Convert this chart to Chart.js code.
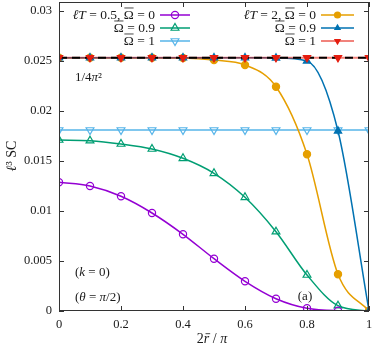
<!DOCTYPE html>
<html><head><meta charset="utf-8">
<script src="https://cdn.jsdelivr.net/npm/chart.js@4.4.1/dist/chart.umd.min.js"></script>
<style>html,body{margin:0;padding:0;background:#fff}#wrap{width:374px;height:348px}</style>
</head><body><div id="wrap"><canvas id="c" width="374" height="348"></canvas></div>
<script>
// ---- data ----
const xs = [0, 0.1, 0.2, 0.3, 0.4, 0.5, 0.6, 0.7, 0.8, 0.9, 1];
const lt05_om0  = [0.01287, 0.0125, 0.01147, 0.0098, 0.00767, 0.00523, 0.00297, 0.00123, 0.00027, 0.00003, 0];
const lt05_om09 = [0.0171, 0.01703, 0.0167, 0.0162, 0.01527, 0.01377, 0.01137, 0.00793, 0.0036, 0.00053, 0];
const lt05_om1  = [0.0181, 0.0181, 0.0181, 0.0181, 0.0181, 0.0181, 0.0181, 0.0181, 0.0181, 0.0181, 0.0181];
const lt2_om0   = [0.02533, 0.02533, 0.02533, 0.02532, 0.0253, 0.0251, 0.0246, 0.02243, 0.01567, 0.00367, 0];
const lt2_om09  = [0.02533, 0.02533, 0.02533, 0.02533, 0.02533, 0.02533, 0.02533, 0.0253, 0.0250, 0.0180, 0];
const lt2_om1   = [0.02533, 0.02533, 0.02533, 0.02533, 0.02533, 0.02533, 0.02533, 0.02533, 0.02533, 0.02533, 0.02533];
const refLevel  = 1 / (4 * Math.PI * Math.PI);
const xTicks = [0, 0.2, 0.4, 0.6, 0.8, 1];
const xTickLabels = ['0', '0.2', '0.4', '0.6', '0.8', '1'];
const yTicks = [0, 0.005, 0.01, 0.015, 0.02, 0.025, 0.03];
const yTickLabels = ['0', '0.005', '0.01', '0.015', '0.02', '0.025', '0.03'];

const C = {purple:'#9400D3', green:'#009E73', lblue:'#56B4E9', orange:'#E69F00', blue:'#0072B2', red:'#E51E10', redLine:'rgba(229,30,16,0.55)'};
const FONT = '"Liberation Serif", "DejaVu Serif", serif';

const pts = arr => xs.map((x, i) => ({x, y: arr[i]}));
const clear = 'rgba(0,0,0,0)';

function ds(data, color, style, filled, rot, radius, order, lineColor) {
  return {data: pts(data), borderColor: lineColor || color, backgroundColor: filled ? color : clear,
    pointBorderColor: color, pointBackgroundColor: filled ? color : clear,
    pointStyle: style, pointRotation: rot, pointRadius: radius, pointBorderWidth: 1.2,
    borderWidth: 1.5, cubicInterpolationMode: 'monotone', order};
}

const datasets = [
  ds(lt05_om1, C.lblue, 'triangle', false, 180, 4.5, 90),
  ds(lt05_om09, C.green, 'triangle', false, 0, 4.5, 80),
  ds(lt05_om0, C.purple, 'circle', false, 0, 3.6, 70),
  ds(lt2_om0, C.orange, 'circle', true, 0, 3.6, 60),
  ds(lt2_om09, C.blue, 'triangle', true, 0, 4.2, 50),
  Object.assign(ds(lt2_om1, C.red, 'triangle', true, 180, 0, 40, C.redLine), {borderWidth: 2}),
  {data: [{x: 0, y: refLevel}, {x: 1, y: refLevel}], borderColor: '#000', borderWidth: 2, borderDash: [8, 5], pointRadius: 0, order: 30},
  Object.assign(ds(lt2_om1, C.red, 'triangle', true, 180, 4.2, 20), {showLine: false})
];

function rich(ctx, segs, x, y, align, size) {
  size = size || 13;
  let w = 0;
  const m = segs.map(s => { ctx.font = (s[1] === 'i' ? 'italic ' : '') + size + 'px ' + FONT; const ww = ctx.measureText(s[0]).width; w += ww; return ww; });
  let cx = align === 'right' ? x - w : align === 'center' ? x - w / 2 : x;
  segs.forEach((s, i) => {
    ctx.font = (s[1] === 'i' ? 'italic ' : '') + size + 'px ' + FONT;
    ctx.fillStyle = '#1a1a1a';
    ctx.textBaseline = 'middle';
    ctx.textAlign = 'left';
    ctx.fillText(s[0], cx, y);
    if (s[2] === 'o') {
      ctx.strokeStyle = '#1a1a1a'; ctx.lineWidth = 0.8;
      const sh = s[1] === 'i' ? 1.2 : 0;
      const top = s[0] === 'Ω' ? y - size * 0.52 : y - size * 0.38;
      ctx.beginPath(); ctx.moveTo(cx + 0.5 + sh, top); ctx.lineTo(cx + m[i] - 0.3 + sh, top); ctx.stroke();
    }
    cx += m[i];
  });
}

function marker(ctx, x, y, color, style, filled, rot, r) {
  ctx.save();
  ctx.strokeStyle = color; ctx.fillStyle = color; ctx.lineWidth = 1.2;
  ctx.beginPath();
  if (style === 'circle') { ctx.arc(x, y, r, 0, Math.PI * 2); }
  else {
    let a = rot * Math.PI / 180;
    for (let k = 0; k < 3; k++) { const px = x + Math.sin(a) * r, py = y - Math.cos(a) * r; k ? ctx.lineTo(px, py) : ctx.moveTo(px, py); a += 2 * Math.PI / 3; }
    ctx.closePath();
  }
  filled ? ctx.fill() : ctx.stroke();
  ctx.restore();
}

const overlay = {
  id: 'overlay',
  afterDraw(chart) {
    const ctx = chart.ctx, a = chart.chartArea, xs_ = chart.scales.x, ys_ = chart.scales.y;
    ctx.save();
    // frame
    ctx.strokeStyle = '#333'; ctx.lineWidth = 1;
    ctx.strokeRect(a.left + 0.5, a.top + 0.5, a.right - a.left - 1, a.bottom - a.top - 1);
    // inward ticks
    ctx.beginPath();
    xTicks.forEach(v => { const px = Math.round(xs_.getPixelForValue(v)) + 0.5; ctx.moveTo(px, a.bottom); ctx.lineTo(px, a.bottom - 5); ctx.moveTo(px, a.top); ctx.lineTo(px, a.top + 5); });
    yTicks.forEach(v => { const py = Math.round(ys_.getPixelForValue(v)) + 0.5; ctx.moveTo(a.left, py); ctx.lineTo(a.left + 5, py); ctx.moveTo(a.right, py); ctx.lineTo(a.right - 5, py); });
    ctx.stroke();
    // legend
    const rows = [15, 28, 41];
    const leftL = [
      [[['ℓ','i'],['T','i'],[' = 0.5, ','n'],['Ω','n','o'],[' = 0','n']], C.purple, C.purple, 'circle', false, 0, 3.6],
      [[['Ω','n','o'],[' = 0.9','n']], C.green, C.green, 'triangle', false, 0, 4.5],
      [[['Ω','n','o'],[' = 1','n']], C.lblue, C.lblue, 'triangle', false, 180, 4.5]
    ];
    const rightL = [
      [[['ℓ','i'],['T','i'],[' = 2, ','n'],['Ω','n','o'],[' = 0','n']], C.orange, C.orange, 'circle', true, 0, 3.6],
      [[['Ω','n','o'],[' = 0.9','n']], C.blue, C.blue, 'triangle', true, 0, 4.2],
      [[['Ω','n','o'],[' = 1','n']], C.red, C.redLine, 'triangle', true, 180, 4.2]
    ];
    [[leftL, 155, 160, 190], [rightL, 316, 321, 354]].forEach(([L, tx, l0, l1]) => {
      L.forEach((e, i) => {
        const y = rows[i];
        rich(ctx, e[0], tx, y, 'right', 13.5);
        ctx.strokeStyle = e[2]; ctx.lineWidth = e[2] === C.redLine ? 2 : 1.5;
        ctx.beginPath(); ctx.moveTo(l0, y); ctx.lineTo(l1, y); ctx.stroke();
        marker(ctx, (l0 + l1) / 2, y, e[1], e[3], e[4], e[5], e[6]);
      });
    });
    // annotations
    rich(ctx, [['1/4','n'],['π','i'],['²','n']], 75, 78, 'left');
    rich(ctx, [['(','n'],['k','i'],[' = 0)','n']], 75, 273, 'left');
    rich(ctx, [['(','n'],['θ','i'],[' = ','n'],['π','i'],['/2)','n']], 75, 298, 'left');
    rich(ctx, [['(a)','n']], 305, 297, 'center');
    // axis titles
    rich(ctx, [['2','n'],['r','i','o'],[' / ','n'],['π','i']], 212, 339, 'center', 14);
    ctx.save(); ctx.translate(12, 156); ctx.rotate(-Math.PI / 2);
    rich(ctx, [['ℓ','i'],['³','n'],[' SC','n']], 0, 0, 'center', 14);
    ctx.restore();
    ctx.restore();
  }
};

new Chart(document.getElementById('c'), {
  type: 'line',
  data: {datasets},
  options: {
    responsive: false, animation: false, events: [],
    layout: {autoPadding: false, padding: {top: 2, right: 5, left: 0, bottom: 0}},
    plugins: {legend: {display: false}, tooltip: {enabled: false}},
    elements: {line: {tension: 0}},
    scales: {
      x: {type: 'linear', min: 0, max: 1,
        afterBuildTicks: s => { s.ticks = xTicks.map(v => ({value: v})); },
        afterFit: s => { s.height = 37; s.paddingLeft = 0; s.paddingRight = 0; s.paddingTop = 0; s.paddingBottom = 0; },
        grid: {display: false, drawTicks: false}, border: {display: false},
        ticks: {padding: 6, color: '#1a1a1a', font: {family: FONT, size: 12.5}, maxRotation: 0,
          callback: (v) => xTickLabels[xTicks.indexOf(v)] ?? ''}},
      y: {type: 'linear', min: 0, max: 0.0309,
        afterBuildTicks: s => { s.ticks = yTicks.map(v => ({value: v})); },
        afterFit: s => { s.width = 59; s.paddingTop = 0; s.paddingBottom = 0; s.paddingLeft = 0; s.paddingRight = 0; },
        grid: {display: false, drawTicks: false}, border: {display: false},
        ticks: {padding: 7, color: '#1a1a1a', font: {family: FONT, size: 12.5},
          callback: (v) => yTickLabels[yTicks.indexOf(v)] ?? ''}}
    }
  },
  plugins: [overlay]
});
</script></body></html>
